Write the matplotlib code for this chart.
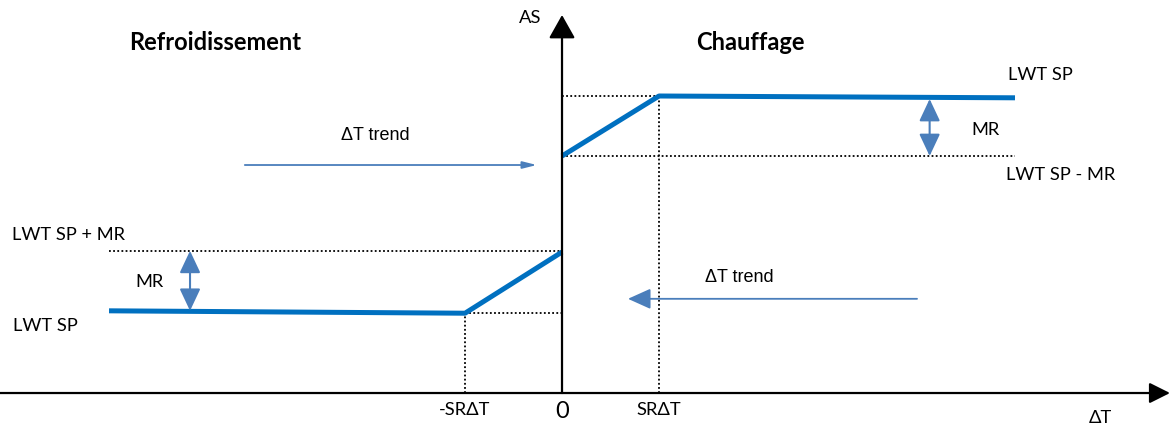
import matplotlib
matplotlib.use("Agg")
import matplotlib.pyplot as plt

plt.rcParams['font.family'] = ['Lato', 'DejaVu Sans']

# diagram units: x in SR-dT steps, y in MR steps
sr = 1.0
x_end = 4.67
heat_x = [0.0, sr, x_end]
heat_y = [3.95, 4.95, 4.92]
cool_x = [-x_end, -sr, 0.0]
cool_y = [1.37, 1.33, 2.35]
heat_low = 3.95
cool_high = 2.37

blue = '#0070c0'
arrow_blue = '#4a7ebb'

fig = plt.figure(figsize=(11.7, 4.28), dpi=100)
ax = fig.add_axes([0, 0, 1, 1])
ax.set_xlim(-5.794, 6.268)
ax.set_ylim(-0.583, 6.55)
ax.axis('off')

# axes with arrow heads
ax.annotate('', xy=(6.268, 0), xytext=(-5.8, 0),
            arrowprops=dict(arrowstyle='-|>,head_length=0.7,head_width=0.35', color='black', lw=1.6,
                            shrinkA=0, shrinkB=0, mutation_scale=18))
ax.annotate('', xy=(0, 6.3), xytext=(0, 0),
            arrowprops=dict(arrowstyle='-|>,head_length=0.8,head_width=0.45', color='black', lw=1.6,
                            shrinkA=0, shrinkB=0, mutation_scale=18))

# dotted guide lines
dot = dict(color='black', lw=1.3, ls=(0, (1, 1.3)))
ax.plot([0, sr], [heat_y[1], heat_y[1]], **dot)
ax.plot([sr, sr], [0, heat_y[1]], **dot)
ax.plot([0, x_end], [heat_low, heat_low], **dot)
ax.plot([-x_end, 0], [cool_high, cool_high], **dot)
ax.plot([-sr, 0], [cool_y[1], cool_y[1]], **dot)
ax.plot([-sr, -sr], [0, cool_y[1]], **dot)

# control lines
ax.plot(heat_x, heat_y, color=blue, lw=3.6, solid_capstyle='butt')
ax.plot(cool_x, cool_y, color=blue, lw=3.6, solid_capstyle='butt')

# MR spans
mr_style = '<|-|>,head_length=0.85,head_width=0.4'
ax.annotate('', xy=(3.79, 4.9), xytext=(3.79, heat_low),
            arrowprops=dict(arrowstyle=mr_style, color=arrow_blue, lw=1.5,
                            shrinkA=0, shrinkB=0, mutation_scale=16))
ax.annotate('', xy=(-3.835, cool_high), xytext=(-3.835, 1.37),
            arrowprops=dict(arrowstyle=mr_style, color=arrow_blue, lw=1.5,
                            shrinkA=0, shrinkB=0, mutation_scale=16))

# dT trend arrows
ax.annotate('', xy=(-0.26, 3.8), xytext=(-3.27, 3.8),
            arrowprops=dict(arrowstyle='-|>,head_length=0.6,head_width=0.15', color=arrow_blue, lw=1.3,
                            shrinkA=0, shrinkB=0, mutation_scale=14))
ax.annotate('', xy=(0.68, 1.57), xytext=(3.66, 1.57),
            arrowprops=dict(arrowstyle='-|>,head_length=1.0,head_width=0.45', color=arrow_blue, lw=1.3,
                            shrinkA=0, shrinkB=0, mutation_scale=14))

fs = 13.2
ax.text(-3.58, 5.85, 'Refroidissement', fontsize=17, fontweight='bold', ha='center', va='center')
ax.text(1.94, 5.85, 'Chauffage', fontsize=17, fontweight='bold', ha='center', va='center')
ax.text(-0.33, 6.25, 'AS', fontsize=fs, ha='center', va='center')
ax.text(-1.92, 4.3, 'ΔT trend', fontsize=13, ha='center', va='center',
        family=['Liberation Sans', 'DejaVu Sans'])
ax.text(1.83, 1.92, 'ΔT trend', fontsize=13, ha='center', va='center',
        family=['Liberation Sans', 'DejaVu Sans'])
ax.text(4.93, 5.3, 'LWT SP', fontsize=fs, ha='center', va='center')
ax.text(4.37, 4.38, 'MR', fontsize=fs, ha='center', va='center')
ax.text(5.14, 3.63, 'LWT SP - MR', fontsize=fs, ha='center', va='center')
ax.text(-5.09, 2.63, 'LWT SP + MR', fontsize=fs, ha='center', va='center')
ax.text(-4.25, 1.85, 'MR', fontsize=fs, ha='center', va='center')
ax.text(-5.33, 1.12, 'LWT SP', fontsize=fs, ha='center', va='center')
ax.text(-sr, -0.28, '-SRΔT', fontsize=fs, ha='center', va='center')
ax.text(0, -0.31, '0', fontsize=17, ha='center', va='center')
ax.text(sr, -0.28, 'SRΔT', fontsize=fs, ha='center', va='center')
ax.text(5.55, -0.42, 'ΔT', fontsize=fs, ha='center', va='center')

fig.savefig('out.png', dpi=100)
